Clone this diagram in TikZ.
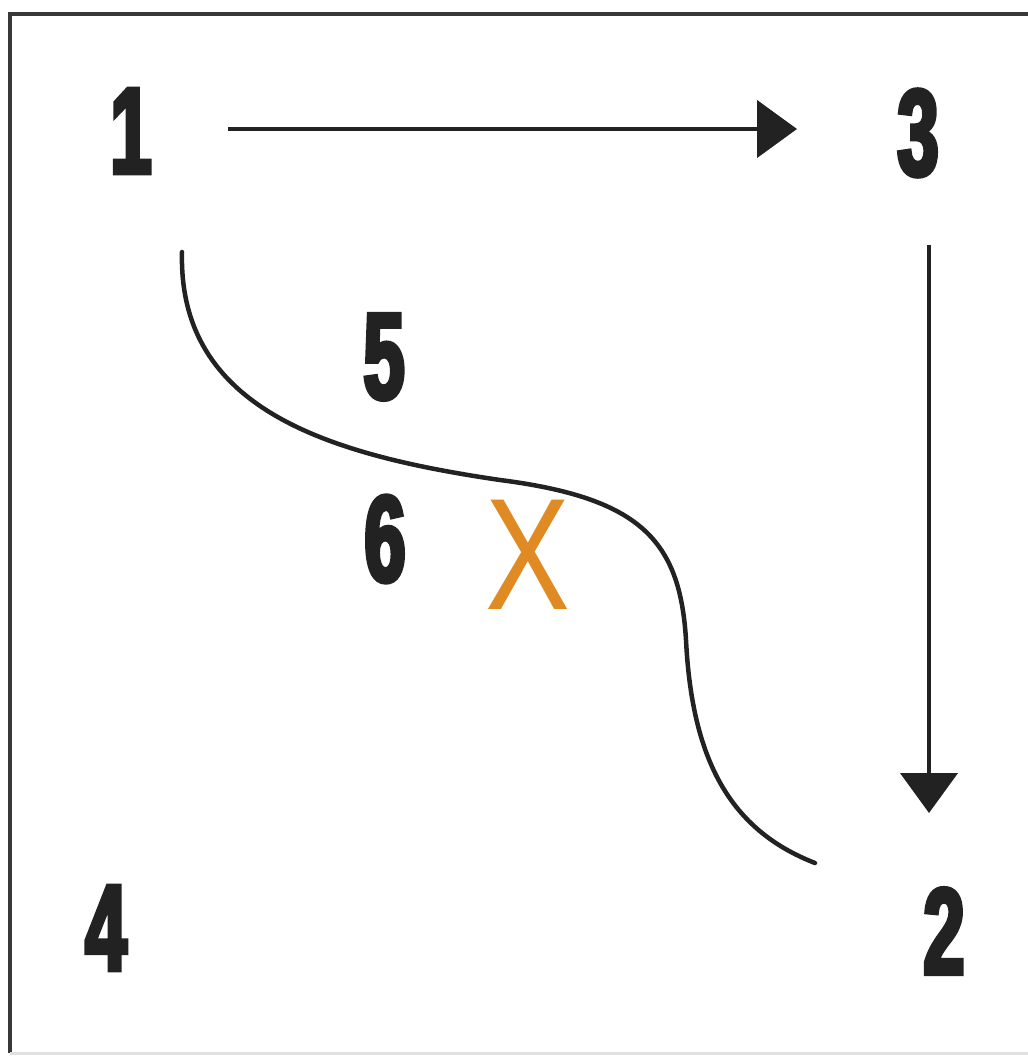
\documentclass[tikz,border=0pt]{standalone}
\usepackage{fontspec}
\usetikzlibrary{arrows.meta}
\newfontfamily\digitfont[FakeStretch=0.6,FakeBold=3.5]{Liberation Sans Bold}
\newfontfamily\xfont[FakeStretch=0.8]{Liberation Sans}
\definecolor{ink}{HTML}{222222}
\definecolor{xorange}{HTML}{E08A24}
\begin{document}
\begin{tikzpicture}[x=1pt,y=-1pt,
  num/.style={inner sep=0pt, text=ink, font=\digitfont\fontsize{123}{123}\selectfont},
  arr/.style={draw=ink, line width=4.5pt, -{Triangle[length=40pt,width=57pt]}},
  curve/.style={draw=ink, line width=4.5pt, line cap=round}]
\useasboundingbox (0,0) rectangle (1027,1059);
\fill[white] (0,0) rectangle (1027,1059);
% frame
\draw[draw=ink!90, line width=3.5pt] (10,1053) -- (10,14) -- (1035,14);
\draw[draw=black!12, line width=3pt] (10,1053) -- (1035,1053);
% labels
\node[num] (n1) at (131,131) {1};
\node[num] (n3) at (918,133) {3};
\node[num] (n4) at (106,928) {4};
\node[num] (n2) at (944,931) {2};
\node[num] (n5) at (384,357) {5};
\node[num] (n6) at (385,539) {6};
\node[inner sep=0pt, text=xorange, font=\xfont\fontsize{159}{159}\selectfont] (x) at (528,555) {X};
% arrows
\coordinate (a1s) at (228,129);
\coordinate (a1e) at (797,129);
\coordinate (a2s) at (929,245);
\coordinate (a2e) at (929,813);
\draw[arr] (a1s) -- (a1e);
\draw[arr] (a2s) -- (a2e);
% curve
\coordinate (cs) at (182,252);
\coordinate (ce) at (815,863);
\draw[curve] (cs) .. controls (178,410) and (330,455) .. (500,480)
  .. controls (640,498) and (680,540) .. (686,640)
  .. controls (692,760) and (730,830) .. (ce);
\end{tikzpicture}
\end{document}
